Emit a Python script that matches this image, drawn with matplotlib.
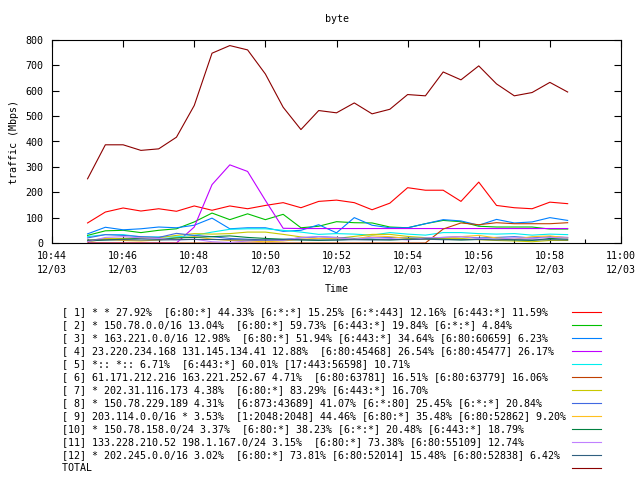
import matplotlib
matplotlib.use("Agg")
import matplotlib.dates as mdates
import matplotlib.pyplot as plt
import pandas as pd

# sample times (every 30 s, 10:45:00 .. 10:58:30)
times = pd.date_range("2000-12-03 10:45:00", periods=28, freq="30s")

s1 = [79, 122, 138, 126, 135, 125, 146, 129, 146, 135, 148, 159, 139, 164,
      169, 159, 131, 157, 218, 208, 208, 164, 240, 148, 139, 135, 161, 155]
s2 = [30, 48, 50, 41, 50, 56, 83, 118, 92, 115, 92, 113, 60, 66,
      84, 80, 79, 63, 60, 76, 89, 84, 66, 63, 63, 63, 55, 55]
s3 = [36, 62, 52, 56, 63, 60, 70, 98, 56, 60, 60, 46, 50, 72,
      40, 100, 70, 60, 60, 76, 92, 87, 70, 93, 79, 83, 100, 89]
s4 = [0, 0, 0, 0, 0, 0, 63, 230, 308, 282, 168, 58, 57, 57,
      57, 57, 57, 57, 57, 57, 57, 57, 57, 57, 57, 57, 57, 57]
s5 = [25, 33, 33, 24, 24, 24, 30, 43, 54, 56, 56, 50, 43, 34,
      37, 35, 31, 41, 35, 31, 41, 41, 37, 35, 37, 31, 35, 33]
s6 = [0, 0, 0, 0, 0, 0, 0, 0, 0, 0, 0, 0, 0, 0,
      0, 0, 0, 0, 0, 0, 55, 79, 72, 80, 76, 76, 76, 80]
s7 = [10, 18, 18, 21, 21, 30, 37, 35, 37, 43, 43, 34, 24, 18,
      18, 26, 34, 34, 26, 21, 18, 18, 13, 10, 8, 5, 10, 10]
s8 = [20, 33, 30, 25, 22, 38, 30, 25, 18, 15, 12, 14, 20, 25,
      22, 18, 20, 22, 20, 18, 22, 25, 20, 22, 25, 20, 25, 22]
s9 = [5, 15, 10, 8, 12, 20, 25, 15, 10, 8, 5, 8, 15, 18,
      20, 15, 28, 25, 18, 15, 20, 25, 30, 20, 15, 25, 28, 20]
s10 = [8, 12, 15, 18, 15, 20, 22, 25, 28, 22, 18, 15, 12, 10,
       12, 15, 14, 12, 15, 18, 15, 12, 14, 15, 12, 10, 18, 15]
s11 = [5, 22, 25, 20, 18, 12, 15, 5, 2, 8, 12, 10, 22, 25,
       20, 15, 22, 18, 12, 20, 22, 25, 18, 15, 20, 18, 22, 20]
s12 = [12, 12, 13, 12, 12, 13, 14, 14, 13, 12, 12, 13, 13, 12,
       12, 13, 12, 13, 14, 15, 13, 13, 14, 12, 13, 12, 13, 12]
total = [253, 387, 387, 365, 371, 417, 542, 748, 778, 761, 666, 535, 447, 522,
         513, 552, 509, 527, 585, 580, 674, 643, 698, 627, 580, 593, 633, 595]

labels = [
    "[ 1] * * 27.92%  [6:80:*] 44.33% [6:*:*] 15.25% [6:*:443] 12.16% [6:443:*] 11.59%",
    "[ 2] * 150.78.0.0/16 13.04%  [6:80:*] 59.73% [6:443:*] 19.84% [6:*:*] 4.84%",
    "[ 3] * 163.221.0.0/16 12.98%  [6:80:*] 51.94% [6:443:*] 34.64% [6:80:60659] 6.23%",
    "[ 4] 23.220.234.168 131.145.134.41 12.88%  [6:80:45468] 26.54% [6:80:45477] 26.17%",
    "[ 5] *:: *:: 6.71%  [6:443:*] 60.01% [17:443:56598] 10.71%",
    "[ 6] 61.171.212.216 163.221.252.67 4.71%  [6:80:63781] 16.51% [6:80:63779] 16.06%",
    "[ 7] * 202.31.116.173 4.38%  [6:80:*] 83.29% [6:443:*] 16.70%",
    "[ 8] * 150.78.229.189 4.31%  [6:873:43689] 41.07% [6:*:80] 25.45% [6:*:*] 20.84%",
    "[ 9] 203.114.0.0/16 * 3.53%  [1:2048:2048] 44.46% [6:80:*] 35.48% [6:80:52862] 9.20%",
    "[10] * 150.78.158.0/24 3.37%  [6:80:*] 38.23% [6:*:*] 20.48% [6:443:*] 18.79%",
    "[11] 133.228.210.52 198.1.167.0/24 3.15%  [6:80:*] 73.38% [6:80:55109] 12.74%",
    "[12] * 202.245.0.0/16 3.02%  [6:80:*] 73.81% [6:80:52014] 15.48% [6:80:52838] 6.42%",
    "TOTAL",
]
colors = ["#ff0000", "#00c000", "#0080ff", "#c000ff", "#00eeee", "#c04000",
          "#c8c800", "#4169e1", "#ffc020", "#008040", "#c080ff", "#306080",
          "#8b0000"]
series = [s1, s2, s3, s4, s5, s6, s7, s8, s9, s10, s11, s12, total]

plt.rcParams["font.family"] = "DejaVu Sans Mono"
fs = 7.2

fig = plt.figure(figsize=(6.4, 4.8), dpi=100)
ax = fig.add_axes([52 / 640, 1 - 243 / 480, 569 / 640, 203 / 480])

# pad labels to equal width so the line samples line up on the right
width = max(len(s) for s in labels)
for vals, lab, col in zip(series, labels, colors):
    ax.plot(times, vals, color=col, lw=0.8, label=lab.ljust(width))

ax.set_xlim(pd.Timestamp("2000-12-03 10:44"), pd.Timestamp("2000-12-03 11:00"))
ax.set_ylim(0, 800)
ax.set_yticks(range(0, 801, 100))
ax.xaxis.set_major_locator(mdates.MinuteLocator(byminute=range(0, 60, 2)))
ax.xaxis.set_minor_locator(mdates.MinuteLocator())
ax.xaxis.set_major_formatter(mdates.DateFormatter("%H:%M\n%m/%d"))
ax.tick_params(which="both", direction="in", top=True, right=True,
               labelsize=fs, width=0.8, pad=6)
ax.tick_params(which="major", length=5)
ax.tick_params(which="minor", length=3, top=False)
for lab in ax.get_xticklabels():
    lab.set_linespacing(1.5)
for sp in ax.spines.values():
    sp.set_linewidth(0.8)

ax.set_title("byte", fontsize=fs, pad=13)
ax.set_xlabel("Time", fontsize=fs, labelpad=6)
ax.set_ylabel("traffic (Mbps)", fontsize=fs, labelpad=5)

ax.legend(loc="upper left", bbox_to_anchor=(62 / 640, 1 - 307 / 480),
          bbox_transform=fig.transFigure, frameon=False, markerfirst=False,
          fontsize=fs, handlelength=2.9, handletextpad=0.6,
          labelspacing=0.3, borderpad=0, borderaxespad=0)

fig.savefig("out.png", dpi=100)
